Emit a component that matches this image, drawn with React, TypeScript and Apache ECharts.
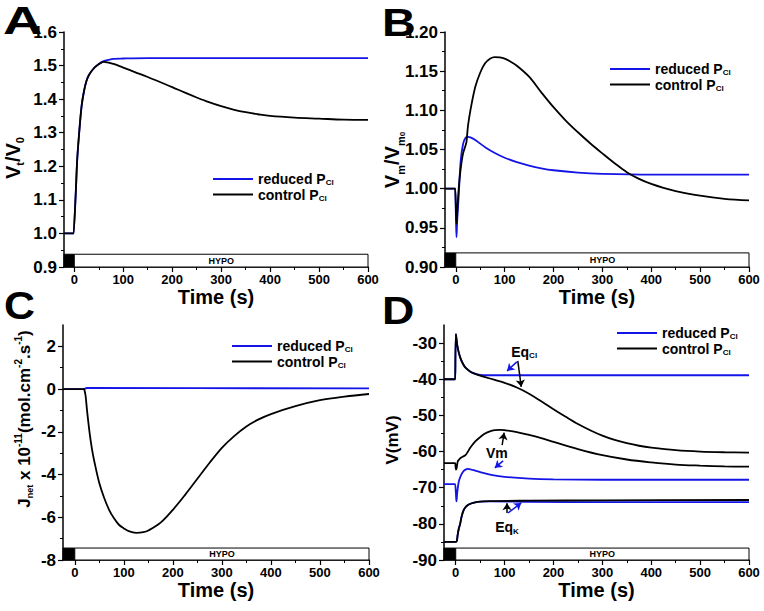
import React, { useEffect, useRef } from 'react';
import * as echarts from 'echarts';

const FONT = '"Liberation Sans", Arial, Helvetica, sans-serif';
const BLUE = '#1414e6';
const BLACK = '#000000';
const NAMES = ['reduced PCl', 'control PCl'];
const HYPO_LABEL = 'HYPO';
const X_TICKS = [0, 100, 200, 300, 400, 500, 600];

// Panel A: Vt/V0
const tARed = [-21, -1, 0, 3, 6, 10, 15, 20, 25, 30, 40, 50, 60, 70, 80, 100, 150, 200, 300, 400, 500, 600];
const aRed = [1.0, 1.0, 1.0, 1.12, 1.22, 1.3, 1.38, 1.425, 1.455, 1.472, 1.492, 1.505, 1.513, 1.517, 1.52, 1.521, 1.522, 1.522, 1.522, 1.522, 1.522, 1.522];
const tACtl = [-21, -1, 0, 3, 6, 10, 15, 20, 25, 30, 40, 50, 60, 70, 80, 90, 100, 125, 150, 175, 200, 225, 250, 275, 300, 325, 350, 375, 400, 450, 500, 550, 600];
const aCtl = [1.0, 1.0, 1.0, 1.12, 1.22, 1.3, 1.38, 1.425, 1.455, 1.472, 1.492, 1.504, 1.511, 1.509, 1.505, 1.5, 1.494, 1.48, 1.466, 1.451, 1.436, 1.42, 1.405, 1.391, 1.379, 1.369, 1.361, 1.355, 1.35, 1.345, 1.342, 1.339, 1.338];

// Panel B: Vm/Vm0
const tBRed = [-22, -1, 0, 0.5, 1.5, 3, 6, 10, 15, 20, 25, 30, 40, 50, 60, 80, 100, 125, 150, 175, 200, 250, 300, 400, 600];
const bRed = [1.0, 1.0, 1.0, 0.96, 0.938, 0.96, 0.99, 1.035, 1.057, 1.065, 1.066, 1.0655, 1.062, 1.0575, 1.053, 1.0455, 1.0395, 1.034, 1.0295, 1.026, 1.0235, 1.0205, 1.019, 1.018, 1.018];
const tBCtl = [-22, -1, 0, 0.5, 1.5, 3, 6, 10, 15, 20, 22, 25, 30, 40, 50, 60, 70, 80, 90, 100, 110, 125, 150, 175, 200, 225, 250, 275, 300, 325, 350, 375, 400, 425, 450, 500, 550, 600];
const bCtl = [1.0, 1.0, 1.0, 0.97, 0.955, 0.97, 1.0, 1.025, 1.045, 1.055, 1.06, 1.08, 1.1, 1.13, 1.148, 1.16, 1.166, 1.168, 1.1675, 1.166, 1.163, 1.157, 1.143, 1.123, 1.104, 1.087, 1.072, 1.058, 1.045, 1.0325, 1.021, 1.0125, 1.006, 1.001, 0.997, 0.991, 0.987, 0.985];

// Panel C: Jnet
const tCRed = [-24, 19, 20, 25, 600];
const cRed = [0, 0, 0, 0.05, 0.03];
const tCCtl = [-24, 19, 20, 22, 25, 30, 35, 40, 50, 60, 70, 80, 90, 100, 110, 125, 140, 150, 175, 200, 225, 250, 275, 300, 325, 350, 375, 400, 450, 500, 550, 600];
const cCtl = [0, 0, 0, -0.3, -1.0, -2.0, -2.8, -3.4, -4.4, -5.1, -5.65, -6.05, -6.35, -6.52, -6.65, -6.73, -6.7, -6.62, -6.25, -5.65, -4.95, -4.2, -3.45, -2.75, -2.2, -1.75, -1.42, -1.17, -0.8, -0.52, -0.35, -0.23];

// Panel D: potentials (mV)
const tDClRed = [-24, -1, 0, 0.3, 3, 6, 10, 15, 20, 30, 40, 50, 60, 100, 600];
const dClRed = [-40, -40, -40, -27.5, -30.5, -32.5, -34.3, -35.8, -36.8, -37.9, -38.5, -38.8, -38.9, -38.9, -38.9];
const tDClCtl = [-24, -1, 0, 0.3, 3, 6, 10, 15, 20, 30, 40, 50, 60, 80, 100, 125, 150, 175, 200, 225, 250, 275, 300, 325, 350, 375, 400, 450, 500, 550, 600];
const dClCtl = [-40, -40, -40, -27.5, -30.5, -32.5, -34.3, -35.8, -36.8, -37.9, -38.5, -39.0, -39.4, -40.2, -41.0, -42.3, -44.0, -46.1, -48.3, -50.4, -52.4, -54.1, -55.6, -56.8, -57.7, -58.4, -58.9, -59.6, -60.0, -60.2, -60.3];
const tDVmCtl = [-24, -1, 0, 0.5, 2, 4, 7, 10, 15, 20, 25, 30, 40, 50, 60, 70, 80, 90, 100, 125, 150, 175, 200, 250, 300, 350, 400, 450, 500, 550, 600];
const dVmCtl = [-63.2, -63.2, -63.2, -65.0, -64.5, -62.8, -62.2, -61.8, -61.4, -61.0, -60.0, -58.9, -57.2, -56.0, -55.0, -54.4, -54.1, -54.0, -54.1, -54.6, -55.4, -56.3, -57.3, -59.3, -61.0, -62.2, -63.0, -63.6, -63.9, -64.1, -64.2];
const tDVmRed = [-24, -1, 0, 0.5, 1.5, 3, 6, 10, 15, 20, 25, 30, 40, 50, 75, 100, 150, 200, 300, 600];
const dVmRed = [-69, -69, -69, -72, -73.8, -71.5, -68.5, -66.8, -65.6, -65.0, -64.8, -64.9, -65.3, -65.7, -66.5, -67.0, -67.5, -67.7, -67.8, -67.8];
const tDK = [-24, -1, 0, 2, 4, 6, 9, 12, 16, 20, 25, 33, 45, 70, 150, 300, 600];
const dKCtl = [-85, -85, -85, -84.8, -83, -81.5, -80, -78, -76.3, -75.4, -74.8, -74.3, -73.9, -73.7, -73.6, -73.5, -73.4];
const dKRed = [-85, -85, -85, -84.8, -83, -81.5, -80, -78, -76.3, -75.4, -74.8, -74.3, -73.9, -73.8, -73.9, -74.0, -74.0];

// Panel D annotations (data coordinates)
const ARROWS = [
  { from: [125, -35.2], to: [105, -37.7], color: BLUE },
  { from: [127, -34.9], to: [134, -42.1], color: BLACK },
  { from: [95, -58.2], to: [99, -54.8], color: BLACK },
  { from: [97, -62.6], to: [80, -64.5], color: BLUE },
  { from: [105, -77], to: [105, -74.3], color: BLACK },
  { from: [107, -77], to: [134, -74.2], color: BLUE },
];
const LABELS_D = [
  { at: [140, -32.4], main: 'Eq', sub: 'Cl' },
  { at: [84, -60.3], main: 'Vm', sub: '' },
  { at: [105, -80.9], main: 'Eq', sub: 'K' },
];

const pairs = (t: number[], v: number[]) => t.map((x, i) => [x, v[i]]);

const tickFont = { color: '#000', fontFamily: FONT, fontWeight: 'bold' as const };

function xAxis(grid: number, min: number) {
  return {
    type: 'value', gridIndex: grid, min, max: 600, splitNumber: 6,
    axisLine: { show: true, onZero: false, lineStyle: { color: '#000', width: 1.5 } },
    axisTick: { show: true, length: 5, customValues: X_TICKS, lineStyle: { color: '#000', width: 1.2 } },
    minorTick: { show: true, splitNumber: 2, length: 3, lineStyle: { color: '#000', width: 1 } },
    axisLabel: { ...tickFont, fontSize: 13, margin: 6, customValues: X_TICKS },
    splitLine: { show: false }, minorSplitLine: { show: false },
    name: 'Time (s)', nameLocation: 'middle', nameGap: 18,
    nameTextStyle: { color: '#000', fontFamily: FONT, fontWeight: 'bold', fontSize: 20 },
  };
}

function yAxis(grid: number, min: number, max: number, interval: number, labels: number[], digits: number) {
  return {
    type: 'value', gridIndex: grid, min, max, interval,
    axisLine: { show: true, onZero: false, lineStyle: { color: '#000', width: 1.5 } },
    axisTick: { show: true, length: 5, customValues: labels, lineStyle: { color: '#000', width: 1.2 } },
    minorTick: { show: true, splitNumber: 2, length: 3, lineStyle: { color: '#000', width: 1 } },
    axisLabel: { ...tickFont, fontSize: 17, margin: 7, customValues: labels, formatter: (v: number) => v.toFixed(digits) },
    splitLine: { show: false }, minorSplitLine: { show: false },
  };
}

function hypo(xmin: number, ymin: number, ytop: number) {
  return {
    silent: true,
    label: { show: true, position: 'inside', color: '#000', fontFamily: FONT, fontWeight: 'bold', fontSize: 9 },
    data: [
      [{ name: '', xAxis: xmin, yAxis: ymin, itemStyle: { color: '#000', borderColor: '#000', borderWidth: 1 } }, { xAxis: 0, yAxis: ytop }],
      [{ name: HYPO_LABEL, xAxis: 0, yAxis: ymin, itemStyle: { color: '#fff', borderColor: '#000', borderWidth: 1 } }, { xAxis: 600, yAxis: ytop }],
    ],
  };
}

function line(name: string, color: string, grid: number, t: number[], v: number[], extra: any = {}) {
  return {
    type: 'line', name, xAxisIndex: grid, yAxisIndex: grid, data: pairs(t, v),
    showSymbol: false, symbol: 'none', smooth: 0.35,
    lineStyle: { color, width: 1.8 }, itemStyle: { color },
    z: color === BLACK ? 3 : 2, animation: false, ...extra,
  };
}

const legendRich = {
  n: { fontSize: 14, fontWeight: 'bold', fontFamily: FONT, color: '#000', lineHeight: 15 },
  s: { fontSize: 8, fontWeight: 'bold', fontFamily: FONT, color: '#000', verticalAlign: 'bottom', lineHeight: 15 },
};
function legend(left: number, top: number) {
  return {
    orient: 'vertical', left, top, padding: 0, itemWidth: 40, itemHeight: 2, itemGap: 1, icon: 'rect',
    selectedMode: false, data: NAMES,
    formatter: (n: string) => (n === NAMES[0] ? '{n|reduced P}{s|Cl}' : '{n|control P}{s|Cl}'),
    textStyle: { rich: legendRich },
  };
}

const nameRich = (size: number) => ({
  a: { fontSize: size, fontWeight: 'bold', fontFamily: FONT, fill: '#000', lineHeight: size + 4 },
  s: { fontSize: Math.round(size * 0.55), fontWeight: 'bold', fontFamily: FONT, fill: '#000', verticalAlign: 'bottom', lineHeight: size + 4 },
  t: { fontSize: Math.round(size * 0.4), fontWeight: 'bold', fontFamily: FONT, fill: '#000', verticalAlign: 'bottom', lineHeight: size + 8 },
  p: { fontSize: Math.round(size * 0.6), fontWeight: 'bold', fontFamily: FONT, fill: '#000', verticalAlign: 'top', lineHeight: size + 4 },
});

function yName(x: number, y: number, text: string, size: number) {
  return {
    type: 'text', x, y, rotation: Math.PI / 2,
    style: { text, rich: nameRich(size), align: 'center', verticalAlign: 'middle', fill: '#000' },
  };
}
function letter(x: number, y: number, text: string, sx: number) {
  return {
    type: 'text', x, y, scaleX: sx,
    style: { text, fontSize: 39, fontWeight: 'bold', fontFamily: FONT, fill: '#000' },
  };
}

export default function App() {
  const ref = useRef<HTMLDivElement>(null);
  useEffect(() => {
    document.body.style.margin = '0';
    const chart = echarts.init(ref.current!, null, { renderer: 'svg' });
    const option: any = {
      animation: false,
      backgroundColor: '#fff',
      grid: [
        { left: 64, top: 32, width: 304, height: 235, containLabel: false, outerBoundsMode: 'none' },
        { left: 445, top: 32, width: 304, height: 235, containLabel: false, outerBoundsMode: 'none' },
        { left: 63, top: 325, width: 306, height: 235, containLabel: false, outerBoundsMode: 'none' },
        { left: 444, top: 325, width: 305, height: 235, containLabel: false, outerBoundsMode: 'none' },
      ],
      xAxis: [xAxis(0, -21), xAxis(1, -22), xAxis(2, -24), xAxis(3, -24)],
      yAxis: [
        yAxis(0, 0.9, 1.6, 0.1, [0.9, 1.0, 1.1, 1.2, 1.3, 1.4, 1.5, 1.6], 1),
        yAxis(1, 0.9, 1.2, 0.05, [0.9, 0.95, 1.0, 1.05, 1.1, 1.15, 1.2], 2),
        yAxis(2, -8, 3, 2, [-8, -6, -4, -2, 0, 2], 0),
        yAxis(3, -90, -25, 10, [-90, -80, -70, -60, -50, -40, -30], 0),
      ],
      legend: [legend(213, 172), legend(610, 62), legend(232, 339), legend(617, 326)],
      series: [
        line(NAMES[0], BLUE, 0, tARed, aRed, { markArea: hypo(-21, 0.9, 0.938) }),
        line(NAMES[1], BLACK, 0, tACtl, aCtl),
        line(NAMES[0], BLUE, 1, tBRed, bRed, { markArea: hypo(-22, 0.9, 0.918) }),
        line(NAMES[1], BLACK, 1, tBCtl, bCtl),
        line(NAMES[0], BLUE, 2, tCRed, cRed, { markArea: hypo(-24, -8, -7.44) }),
        line(NAMES[1], BLACK, 2, tCCtl, cCtl),
        line(NAMES[0], BLUE, 3, tDClRed, dClRed, { markArea: hypo(-24, -90, -86.7) }),
        line(NAMES[0], BLUE, 3, tDVmRed, dVmRed),
        line(NAMES[0], BLUE, 3, tDK, dKRed),
        line(NAMES[1], BLACK, 3, tDClCtl, dClCtl, {
          markLine: {
            silent: true, symbol: ['none', 'arrow'], symbolSize: 7, label: { show: false },
            lineStyle: { type: 'solid', width: 1.5 },
            data: ARROWS.map((a) => [
              { coord: a.from, lineStyle: { color: a.color, type: 'solid', width: 1.5 }, itemStyle: { color: a.color } },
              { coord: a.to, lineStyle: { color: a.color, type: 'solid', width: 1.5 }, itemStyle: { color: a.color } },
            ]),
          },
          markPoint: {
            silent: true, symbol: 'circle', symbolSize: 1, itemStyle: { color: 'rgba(0,0,0,0)' },
            label: {
              show: true, position: 'inside', color: '#000',
              rich: {
                n: { fontSize: 14, fontWeight: 'bold', fontFamily: FONT, color: '#000', lineHeight: 16 },
                s: { fontSize: 8, fontWeight: 'bold', fontFamily: FONT, color: '#000', verticalAlign: 'bottom', lineHeight: 16 },
              },
            },
            data: LABELS_D.map((l) => ({
              coord: l.at,
              label: { formatter: l.sub ? `{n|${l.main}}{s|${l.sub}}` : `{n|${l.main}}` },
            })),
          },
        }),
        line(NAMES[1], BLACK, 3, tDVmCtl, dVmCtl),
        line(NAMES[1], BLACK, 3, tDK, dKCtl),
      ],
      graphic: [
        letter(3, 1, 'A', 1.4),
        letter(382, 3, 'B', 1.2),
        letter(4, 286, 'C', 1.1),
        letter(382, 291, 'D', 1.15),
        yName(13, 158, '{a|V}{s|t}{a|/V}{s|0}', 20),
        yName(392, 160, '{a|V}{s|m}{a|/V}{s|m}{t|0}', 20),
        yName(24, 419, '{a|J}{s|net}{a| x 10}{p|-11}{a|(mol.cm}{p|-2}{a|.s}{p|-1}{a|)}', 17),
        yName(392, 440, '{a|V(mV)}', 17),
      ],
    };
    chart.setOption(option);
    return () => chart.dispose();
  }, []);
  return <div ref={ref} style={{ width: 764, height: 611 }} />;
}
